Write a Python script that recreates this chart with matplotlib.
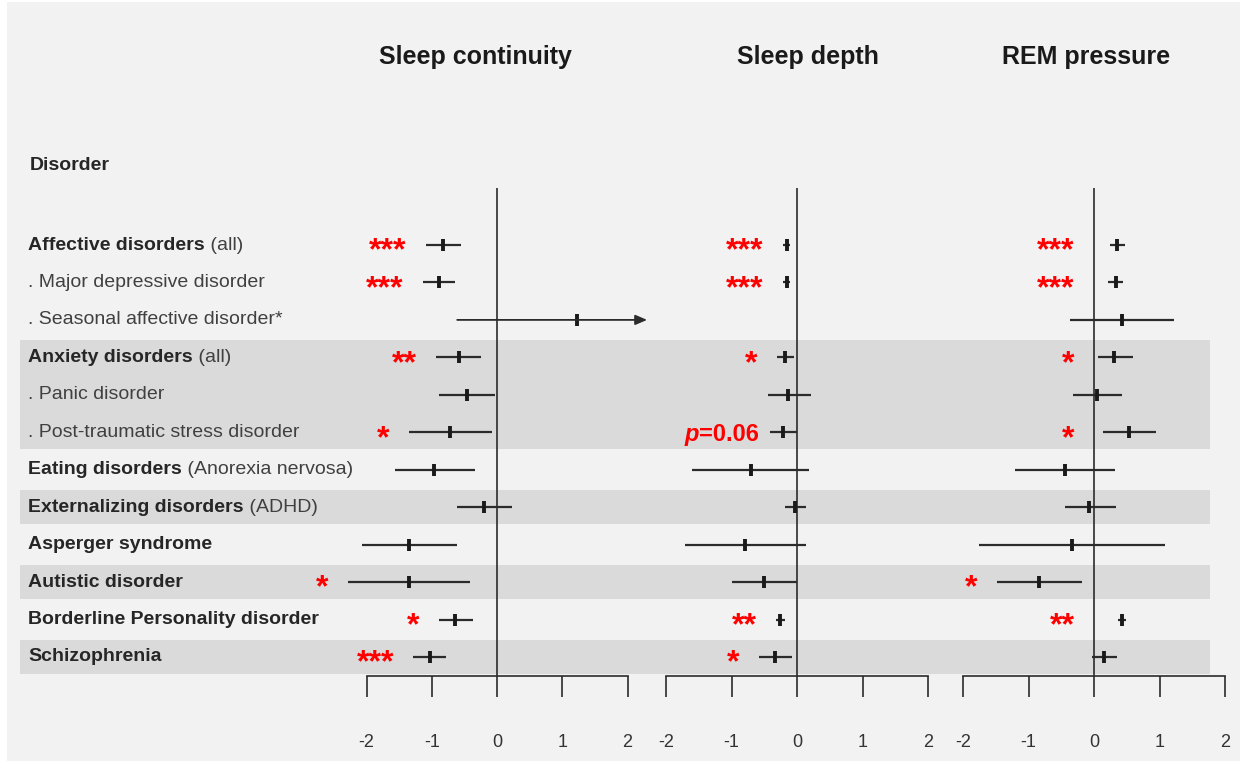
import matplotlib

matplotlib.use("Agg")

import matplotlib.pyplot as plt
import numpy as np
from matplotlib.patches import Rectangle

plt.rcParams["font.family"] = ["Liberation Sans", "DejaVu Sans"]
plt.rcParams["axes.unicode_minus"] = False

# ---- data -------------------------------------------------------------
label_bold = [
    "Affective disorders", "", "", "Anxiety disorders", "", "",
    "Eating disorders", "Externalizing disorders", "Asperger syndrome",
    "Autistic disorder", "Borderline Personality disorder", "Schizophrenia",
]
label_plain = [
    " (all)", ". Major depressive disorder", ". Seasonal affective disorder*",
    " (all)", ". Panic disorder", ". Post-traumatic stress disorder",
    " (Anorexia nervosa)", " (ADHD)", "", "", "", "",
]
shaded_groups = [(3, 5), (7, 7), (9, 9), (11, 11)]

continuity_mean = [-0.82, -0.89, 1.23, -0.58, -0.46, -0.72, -0.96, -0.20, -1.35, -1.35, -0.64, -1.03]
continuity_lo = [-1.09, -1.14, -0.61, -0.93, -0.89, -1.35, -1.57, -0.62, -2.07, -2.29, -0.89, -1.28]
continuity_hi = [-0.55, -0.65, np.inf, -0.24, -0.03, -0.08, -0.34, 0.23, -0.62, -0.41, -0.37, -0.78]
continuity_sig = ["***", "***", "", "**", "", "*", "", "", "", "*", "*", "***"]

depth_mean = [-0.16, -0.16, np.nan, -0.18, -0.13, -0.21, -0.70, -0.03, -0.79, -0.50, -0.26, -0.33]
depth_lo = [-0.21, -0.21, np.nan, -0.31, -0.45, -0.41, -1.60, -0.18, -1.71, -0.99, -0.32, -0.58]
depth_hi = [-0.11, -0.11, np.nan, -0.05, 0.21, 0.00, 0.18, 0.13, 0.13, 0.00, -0.19, -0.08]
depth_sig = ["***", "***", "", "*", "", "p=0.06", "", "", "", "", "**", "*"]

rem_mean = [0.35, 0.33, 0.43, 0.31, 0.04, 0.54, -0.44, -0.07, -0.33, -0.84, 0.43, 0.16]
rem_lo = [0.24, 0.21, -0.37, 0.06, -0.32, 0.14, -1.20, -0.45, -1.75, -1.48, 0.36, -0.03]
rem_hi = [0.48, 0.44, 1.22, 0.60, 0.43, 0.95, 0.32, 0.34, 1.09, -0.18, 0.49, 0.35]
rem_sig = ["***", "***", "", "*", "", "*", "", "", "", "*", "**", ""]

titles = ["Sleep continuity", "Sleep depth", "REM pressure"]
ticks = [-2, -1, 0, 1, 2]

# ---- layout (pixels of the 1244x761 canvas) ---------------------------
W, H = 1244, 761
ROW0, ROW_STEP = 245, 37.45
AX_TOP, AX_BOTTOM = 188, 676
ARROW_CLIP = 2.3
INK = "#2b2b2b"


def fx(px):
    return px / W


def fy(py):
    return 1 - py / H


def row_of(py):
    return (py - ROW0) / ROW_STEP


ylim = (row_of(AX_BOTTOM), row_of(AX_TOP))
ax_h = (AX_BOTTOM - AX_TOP) / H

fig = plt.figure(figsize=(W / 100, H / 100), dpi=100, facecolor="white")
fig.add_artist(Rectangle((fx(7), 0), fx(1240) - fx(7), fy(2), transform=fig.transFigure,
                         facecolor="#f2f2f2", edgecolor="none", zorder=-10))

bg = fig.add_axes([0, fy(AX_BOTTOM), 1, ax_h])
bg.set_xlim(0, W)
bg.set_ylim(*ylim)
bg.axis("off")
for top, bottom in shaded_groups:
    bg.axhspan(top - 0.46, bottom + 0.46, xmin=fx(20), xmax=fx(1210), color="#dadada", lw=0)

for i, (bold, plain) in enumerate(zip(label_bold, label_plain)):
    if bold:
        t = bg.text(28, i, bold, fontsize=14, fontweight="bold", color="#262626", va="center")
        if plain:
            bg.annotate(plain, xy=(1, 0), xycoords=t, fontsize=14, color="#404040", va="bottom", ha="left")
    else:
        bg.text(28, i, plain, fontsize=14, color="#404040", va="center")

fig.text(fx(30), fy(165), "Disorder", fontsize=14, fontweight="bold", color="#262626", va="center")

panels = [
    (continuity_mean, continuity_lo, continuity_hi, continuity_sig, 497, 65.25, 475),
    (depth_mean, depth_lo, depth_hi, depth_sig, 797, 65.5, 808),
    (rem_mean, rem_lo, rem_hi, rem_sig, 1094, 65.5, 1086),
]

for title, (means, lo, hi, sig, zero_px, scale, title_px) in zip(titles, panels):
    ax = fig.add_axes([fx(zero_px - 2.5 * scale), fy(AX_BOTTOM), 5 * scale / W, ax_h])
    ax.set_xlim(-2.5, 2.5)
    ax.set_ylim(*ylim)
    ax.patch.set_visible(False)
    for side in ("top", "left", "right"):
        ax.spines[side].set_visible(False)
    ax.spines["bottom"].set_bounds(-2, 2)
    ax.spines["bottom"].set_color(INK)
    ax.spines["bottom"].set_linewidth(1.2)
    ax.set_xticks(ticks)
    ax.set_yticks([])
    ax.tick_params(axis="x", direction="out", length=15, width=1.2, color=INK,
                   pad=27, labelsize=13, labelcolor="#333333")
    ax.axvline(0, color=INK, lw=1.2)

    rows = np.arange(len(means))
    for y, m, a, b in zip(rows, means, lo, hi):
        if np.isnan(m):
            continue
        if np.isinf(b):
            ax.annotate("", xy=(ARROW_CLIP, y), xytext=(a, y), annotation_clip=False,
                        arrowprops=dict(arrowstyle="-|>,head_length=0.7,head_width=0.3",
                                        color=INK, lw=1.3, shrinkA=0, shrinkB=0))
        else:
            ax.hlines(y, a, b, color=INK, lw=1.6)
        ax.plot(m, y, marker="|", ms=9, mew=2.8, ls="none", color="#1a1a1a")

    for y, s in zip(rows, sig):
        if not s:
            continue
        x = min(lo[y], 0)
        if s.startswith("p="):
            t = ax.annotate(s[1:], xy=(x, y), xytext=(-8, -6), textcoords="offset points",
                            ha="right", va="baseline", fontsize=17, fontweight="bold",
                            color="red", annotation_clip=False)
            ax.annotate("p", xy=(0, 0), xycoords=t, ha="right", va="bottom", fontsize=17,
                        fontweight="bold", fontstyle="italic", color="red")
        else:
            ax.annotate(s, xy=(x, y), xytext=(-14, -10.5), textcoords="offset points",
                        ha="right", va="baseline", fontsize=23, fontweight="bold",
                        color="red", annotation_clip=False)

    fig.text(fx(title_px), fy(57), title, fontsize=18, fontweight="bold", color="#1a1a1a",
             ha="center", va="center")

fig.savefig("out.png", dpi=100, facecolor="white")
